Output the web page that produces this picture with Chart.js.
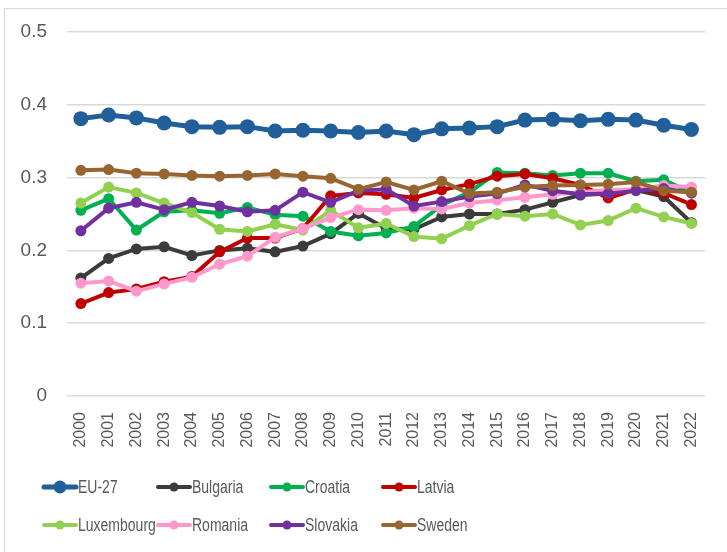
<!DOCTYPE html>
<html>
<head>
<meta charset="utf-8">
<script src="https://cdn.jsdelivr.net/npm/chart.js@4.4.1/dist/chart.umd.min.js"></script>
<style>
  body { margin: 0; background: #fff; }
  #wrap { position: relative; width: 727px; height: 552px; overflow: hidden; }
  #frame { position: absolute; left: 4px; top: 8px; width: 800px; height: 700px; border: 1px solid #d9d9d9; }
  canvas { position: absolute; left: 0; top: 0; }
</style>
</head>
<body>
<div id="wrap">
  <div id="frame"></div>
  <canvas id="mycanvas" width="727" height="552"></canvas>
</div>
<script>
// years on x axis
var years = ['2000','2001','2002','2003','2004','2005','2006','2007','2008','2009','2010','2011',
             '2012','2013','2014','2015','2016','2017','2018','2019','2020','2021','2022'];

// values
var eu27 = [0.381,0.386,0.382,0.375,0.370,0.369,0.370,0.364,0.365,0.364,0.362,0.364,
            0.359,0.367,0.368,0.370,0.379,0.380,0.378,0.380,0.379,0.372,0.366];
var bulgaria = [0.162,0.189,0.202,0.205,0.193,0.200,0.203,0.198,0.206,0.223,0.251,0.230,
                0.229,0.246,0.250,0.250,0.256,0.266,0.276,0.278,0.283,0.274,0.238];
var croatia = [0.255,0.271,0.228,0.253,0.255,0.251,0.259,0.249,0.247,0.226,0.220,0.224,
               0.233,0.262,0.280,0.307,0.306,0.303,0.306,0.306,0.295,0.297,0.279];
var latvia = [0.127,0.142,0.147,0.157,0.164,0.198,0.217,0.217,0.230,0.275,0.279,0.277,
              0.272,0.283,0.291,0.302,0.305,0.299,0.290,0.272,0.284,0.279,0.263];
var luxembourg = [0.265,0.287,0.279,0.265,0.252,0.229,0.226,0.236,0.228,0.255,0.231,0.237,
                  0.219,0.216,0.234,0.250,0.247,0.250,0.235,0.241,0.258,0.246,0.237];
var romania = [0.155,0.158,0.144,0.154,0.163,0.181,0.192,0.218,0.230,0.245,0.256,0.255,
               0.258,0.257,0.265,0.269,0.273,0.277,0.280,0.283,0.284,0.289,0.287];
var slovakia = [0.227,0.258,0.266,0.256,0.266,0.261,0.253,0.255,0.280,0.266,0.282,0.284,
                0.261,0.267,0.274,0.278,0.290,0.282,0.277,0.278,0.282,0.285,0.279];
var sweden = [0.310,0.311,0.306,0.305,0.303,0.302,0.303,0.305,0.302,0.299,0.284,0.294,
              0.283,0.295,0.278,0.280,0.287,0.289,0.290,0.291,0.294,0.282,0.280];

var yTicks = [0, 0.1, 0.2, 0.3, 0.4, 0.5];

var seriesNames = ['EU-27','Bulgaria','Croatia','Latvia','Luxembourg','Romania','Slovakia','Sweden'];
var seriesData = [eu27, bulgaria, croatia, latvia, luxembourg, romania, slovakia, sweden];
var seriesColors = ['#215f9a','#3b3b3b','#00b050','#c00000','#92d050','#ff99cc','#7030a0','#97652f'];

var sans = "'Liberation Sans', Arial, sans-serif";

var datasets = [];
for (var i = 0; i < seriesNames.length; i++) {
  var big = (i === 0);
  datasets.push({
    label: seriesNames[i],
    data: seriesData[i],
    borderColor: seriesColors[i],
    backgroundColor: seriesColors[i],
    pointBackgroundColor: seriesColors[i],
    pointBorderWidth: 0,
    pointRadius: big ? 7.5 : 5.5,
    borderWidth: big ? 5 : 4,
    tension: 0,
    order: seriesNames.length - i // later series on top, like excel
  });
}

// legend drawn by hand: line with a dot, in a grid of 4 columns
var legendPlugin = {
  id: 'gridLegend',
  afterDraw: function(chart) {
    var ctx = chart.ctx;
    var colX = [43, 157, 270, 382];
    var rowY = [487, 525];
    ctx.save();
    for (var k = 0; k < seriesNames.length; k++) {
      var x = colX[k % 4];
      var y = rowY[Math.floor(k / 4)];
      var big = (k === 0);
      ctx.strokeStyle = seriesColors[k];
      ctx.fillStyle = seriesColors[k];
      ctx.lineWidth = big ? 5 : 4;
      ctx.lineCap = 'round';
      ctx.beginPath();
      ctx.moveTo(x + 1, y);
      ctx.lineTo(x + 33, y);
      ctx.stroke();
      ctx.beginPath();
      ctx.arc(x + 17, y, big ? 6.5 : 4.5, 0, Math.PI * 2);
      ctx.fill();
      // narrow look: squeeze the text a bit
      ctx.save();
      ctx.translate(x + 35, y + 1);
      ctx.scale(0.8, 1);
      ctx.font = '17.5px ' + sans;
      ctx.textBaseline = 'middle';
      ctx.textAlign = 'left';
      ctx.fillStyle = '#595959';
      ctx.fillText(seriesNames[k], 0, 0);
      ctx.restore();
    }
    ctx.restore();
  }
};

var ctx = document.getElementById('mycanvas');
var lineGraph = new Chart(ctx, {
  type: 'line',
  data: { labels: years, datasets: datasets },
  options: {
    responsive: false,
    animation: false,
    layout: { padding: { left: 0, right: 16, top: 32, bottom: 0 } },
    plugins: { legend: { display: false }, tooltip: { enabled: false } },
    scales: {
      x: {
        offset: true,
        grid: { display: false, drawTicks: false },
        border: { display: false },
        ticks: {
          minRotation: 90, maxRotation: 90, padding: 16, autoSkip: false,
          color: '#595959', font: { size: 16, family: sans }
        },
        afterFit: function(scale) { scale.height = 156; }
      },
      y: {
        min: 0, max: 0.5,
        afterBuildTicks: function(scale) {
          scale.ticks = yTicks.map(function(v) { return { value: v }; });
        },
        grid: { color: '#d9d9d9', lineWidth: 1.5, drawTicks: false },
        border: { display: false },
        ticks: {
          padding: 20, color: '#595959', font: { size: 19, family: sans },
          callback: function(v) { return v === 0 ? '0' : v.toFixed(1); }
        },
        afterFit: function(scale) { scale.width = 67; }
      }
    }
  },
  plugins: [legendPlugin]
});
</script>
</body>
</html>
